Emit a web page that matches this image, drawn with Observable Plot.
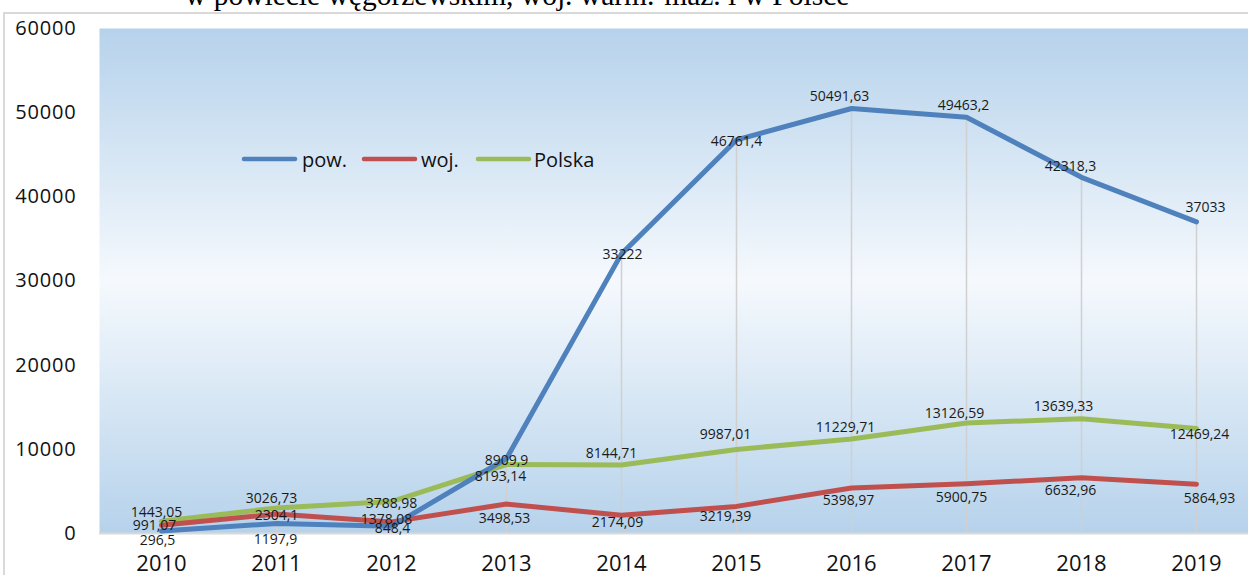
<!DOCTYPE html>
<html><head><meta charset="utf-8">
<script src="https://cdn.jsdelivr.net/npm/d3@7"></script>
<script src="https://cdn.jsdelivr.net/npm/@observablehq/plot@0.6"></script>
<style>
html,body{margin:0;padding:0;background:#fff;overflow:hidden;}
#wrap{position:relative;width:1248px;height:575px;overflow:hidden;}
#border{position:absolute;left:3px;top:12px;width:1300px;height:700px;border-left:2px solid #d9d9d9;border-top:2px solid #d9d9d9;}
#chart{position:absolute;left:0;top:0;}
#overlay{position:absolute;left:0;top:0;pointer-events:none;}
</style></head><body>
<svg width="0" height="0" style="position:absolute"><defs>
<linearGradient id="bgGrad" x1="0" y1="0" x2="0" y2="1">
<stop offset="0" stop-color="#b6d2eb"/><stop offset="0.5" stop-color="#f5f9fd"/><stop offset="1" stop-color="#b6d2eb"/>
</linearGradient></defs></svg>
<div id="wrap">
<div id="border"></div>
<div id="chart"></div>
<svg id="overlay" width="1248" height="575"></svg>
</div>
<script>
// ---- data ----
const years = [2010, 2011, 2012, 2013, 2014, 2015, 2016, 2017, 2018, 2019];
const seriesNames = ["pow.", "woj.", "Polska"];
const pow = [296.5, 1197.9, 848.4, 8909.9, 33222, 46761.4, 50491.63, 49463.2, 42318.3, 37033];
const woj = [991.07, 2304.1, 1378.08, 3498.53, 2174.09, 3219.39, 5398.97, 5900.75, 6632.96, 5864.93];
const polska = [1443.05, 3026.73, 3788.98, 8193.14, 8144.71, 9987.01, 11229.71, 13126.59, 13639.33, 12469.24];
const yTicks = [0, 10000, 20000, 30000, 40000, 50000, 60000];
const titleText = "w powiecie węgorzewskim, woj. warm.-maz. i w Polsce";

// ---- label nudges (px, relative to each point) ----
const powNudge = [[-4,10],[-1,16],[1,2],[0,2],[1,1],[0,1.5],[-12,-12],[-3,-11.5],[-11,-11],[9,-14]];
const wojNudge = [[-7,0],[0,1.5],[-5,-2],[-2,14],[-4,7],[-11,10],[-3,12],[-5,14],[-11,13],[13,14]];
const polNudge = [[-5,-9],[-5,-10],[0,1.5],[-6,12],[-10,-11],[-11,-15],[-6,-11],[-12,-10],[-18,-12],[3,6]];

const colors = ["#4f81bd", "#c0504d", "#9bbb59"];
const seriesValues = [pow, woj, polska];
const nudges = [powNudge, wojNudge, polNudge];

const table = [];
seriesNames.forEach((s, k) => years.forEach((y, i) => table.push({series: s, year: y, value: seriesValues[k][i]})));
const dropData = years.map((y, i) => ({year: y, max: d3.max([pow[i], woj[i], polska[i]])}));
const fmt = v => String(v).replace(".", ",");

const marks = [
  Plot.frame({fill: "url(#bgGrad)", stroke: null}),
  Plot.ruleY([0], {stroke: "#d9d9d9", strokeWidth: 2}),
  Plot.ruleX(dropData, {x: "year", y1: 0, y2: "max", stroke: "#d0d0d0", strokeWidth: 1.5}),
  Plot.axisX({tickSize: 0, tickPadding: 22, fontSize: 22, fontFamily: "Open Sans", fill: "#111", label: null, tickFormat: d => String(d)}),
  Plot.axisY({ticks: yTicks, tickSize: 0, tickPadding: 23, fontSize: 20, fontFamily: "Open Sans", fill: "#111", label: null, tickFormat: d => String(d)})
];
// draw green, red, then blue on top
[2, 1, 0].forEach(k => {
  marks.push(Plot.line(table.filter(d => d.series === seriesNames[k]), {
    x: "year", y: "value", stroke: colors[k], strokeWidth: 5, strokeLinecap: "round", strokeLinejoin: "round"
  }));
});
[0, 1, 2].forEach(k => {
  years.forEach((y, i) => {
    marks.push(Plot.text([{year: y, value: seriesValues[k][i]}], {
      x: "year", y: "value", text: d => fmt(d.value),
      dx: nudges[k][i][0], dy: nudges[k][i][1],
      fontFamily: "Open Sans", fontSize: 14, fill: "#1a1a1a"
    }));
  });
});

const chart = Plot.plot({
  width: 1248, height: 575,
  marginLeft: 99, marginRight: 0, marginTop: 28, marginBottom: 42,
  style: {background: "transparent", overflow: "visible"},
  x: {type: "point", domain: years, padding: 0, insetLeft: 58, insetRight: 48, axis: null},
  y: {domain: [0, 60000], axis: null},
  marks
});
document.getElementById("chart").appendChild(chart);
d3.select(chart).selectAll('[aria-label="y-axis tick label"] text').attr("letter-spacing", "0.8px");

// ---- overlay: cropped title and legend ----
const ov = d3.select("#overlay");
ov.append("text").attr("x", 185).attr("y", 5)
  .attr("font-family", "Liberation Serif").attr("font-size", 29.5).attr("fill", "#000")
  .text(titleText);
const legendX = [244, 364, 478];
const legendTextX = [302, 421, 534];
seriesNames.forEach((s, k) => {
  ov.append("line").attr("x1", legendX[k]).attr("x2", legendX[k] + 51).attr("y1", 159).attr("y2", 159)
    .attr("stroke", colors[k]).attr("stroke-width", 4.5).attr("stroke-linecap", "round");
  ov.append("text").attr("x", legendTextX[k]).attr("y", 167)
    .attr("font-family", "Open Sans").attr("font-size", 20).attr("fill", "#111").text(s);
});
</script>
</body></html>
